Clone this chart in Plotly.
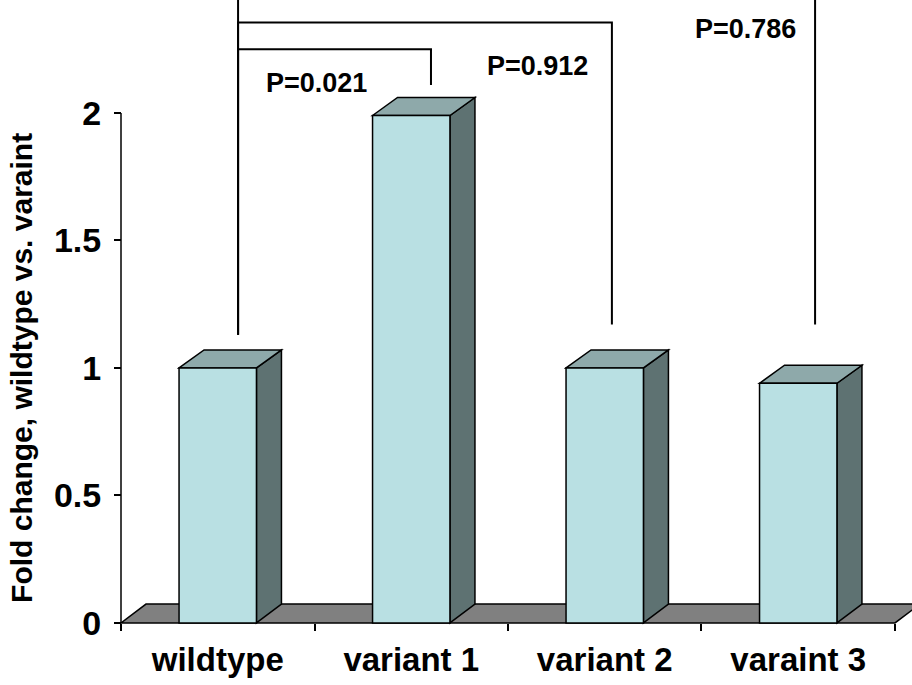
import plotly.graph_objects as go

# ---------------- data ----------------
categories = ["wildtype", "variant 1", "variant 2", "varaint 3"]
fold_change = [1.00, 1.99, 1.00, 0.94]
y_tick_values = [0, 0.5, 1, 1.5, 2]
y_tick_labels = ["0", "0.5", "1", "1.5", "2"]
y_title = "Fold change, wildtype vs. varaint"
compare_left = [0, 0, 0]
compare_right = [1, 2, 3]
p_labels = ["P=0.021", "P=0.912", "P=0.786"]

# ---------------- layout constants ----------------
W_PX, H_PX = 912, 685
M_L, M_R, M_T, M_B = 118, 0, 0, 59
X_RANGE = [-0.5155, 3.5879]
Y_RANGE = [-0.012, 2.443]
BAR_W = 0.40
DX = 25 / 193.5      # 3-D depth (category units)
DY = 18 / 255        # 3-D depth (value units)
FRONT = "#B9E0E3"
TOP = "#8EA9AA"
SIDE = "#5E7272"
FLOOR = "#808080"
FONT = "Liberation Sans, Arial, sans-serif"

leg_offset = [0.105, 0.102, 0.037, 0.087]   # bracket leg x offset from category index
bracket_y = [2.25, 2.355, 2.47]
left_leg_bottom = 1.13
right_leg_bottom = [2.11, 1.17, 1.17]
label_pos = [(0.51, 2.118), (1.65, 2.184), (2.725, 2.329)]

n = len(categories)
xs = list(range(n))

shapes = []
# floor
x0, x1 = -0.5, n - 0.5
shapes.append(dict(
    type="path", xref="x", yref="y", layer="below",
    path=f"M{x0},0 L{x1},0 L{x1 + DX},{DY * 1.05} L{x0 + DX},{DY * 1.05} Z",
    fillcolor=FLOOR, line=dict(color="black", width=1.5)))

# 3-D side and top faces of the columns
for i, v in zip(xs, fold_change):
    l, r = i - BAR_W / 2, i + BAR_W / 2
    shapes.append(dict(
        type="path", xref="x", yref="y", layer="below",
        path=f"M{r},0 L{r + DX},{DY * 1.05} L{r + DX},{v + DY} L{r},{v} Z",
        fillcolor=SIDE, line=dict(color="black", width=1.5)))
    shapes.append(dict(
        type="path", xref="x", yref="y", layer="below",
        path=f"M{l},{v} L{l + DX},{v + DY} L{r + DX},{v + DY} L{r},{v} Z",
        fillcolor=TOP, line=dict(color="black", width=1.5)))

# y axis line (0 .. 2)
shapes.append(dict(type="line", xref="x", yref="y", x0=-0.5, x1=-0.5,
                   y0=0, y1=y_tick_values[-1],
                   line=dict(color="black", width=1.5)))

# significance brackets
for k, (a, b) in enumerate(zip(compare_left, compare_right)):
    xa = a + leg_offset[a]
    xb = b + leg_offset[b]
    shapes.append(dict(
        type="path", xref="x", yref="y", layer="above",
        path=f"M{xa},{left_leg_bottom} L{xa},{bracket_y[k]} L{xb},{bracket_y[k]} L{xb},{right_leg_bottom[k]}",
        line=dict(color="black", width=2)))

annotations = []
for k, txt in enumerate(p_labels):
    annotations.append(dict(
        x=label_pos[k][0], y=label_pos[k][1], xref="x", yref="y",
        xanchor="center", yanchor="middle",
        text=f"<b>{txt}</b>", showarrow=False,
        font=dict(family=FONT, size=27, color="black")))

annotations.append(dict(
    x=(22 - M_L) / (W_PX - M_L - M_R), xref="paper", y=1.0, yref="y",
    xanchor="center", yanchor="middle",
    text=f"<b>{y_title}</b>", textangle=-90, showarrow=False,
    font=dict(family=FONT, size=30, color="black")))

fig = go.Figure()
fig.add_trace(go.Bar(
    x=xs, y=fold_change, width=BAR_W,
    marker=dict(color=FRONT, line=dict(color="black", width=1.5)),
    hoverinfo="skip"))

fig.update_layout(
    width=W_PX, height=H_PX,
    margin=dict(l=M_L, r=M_R, t=M_T, b=M_B, pad=0),
    paper_bgcolor="white", plot_bgcolor="white",
    showlegend=False,
    shapes=shapes, annotations=annotations,
    font=dict(family=FONT, color="black"),
    xaxis=dict(
        range=X_RANGE, tickmode="array", tickvals=xs,
        ticktext=[f"<b>{c}</b>" for c in categories],
        ticks="", showline=False, showgrid=False, zeroline=False,
        tickfont=dict(family=FONT, size=33, color="black"),
        anchor="free", position=(0 - Y_RANGE[0]) / (Y_RANGE[1] - Y_RANGE[0]),
        ticklabelstandoff=14,
        minor=dict(tickmode="array", tickvals=[i - 0.5 for i in range(n + 1)],
                   ticks="outside", ticklen=7, tickwidth=1.5, tickcolor="black",
                   showgrid=False),
    ),
    yaxis=dict(
        range=Y_RANGE, tickmode="array", tickvals=y_tick_values,
        ticktext=[f"<b>{t}</b>" for t in y_tick_labels],
        ticks="outside", ticklen=7, tickwidth=1.5, tickcolor="black",
        showline=False, showgrid=False, zeroline=False,
        tickfont=dict(family=FONT, size=34, color="black"),
        anchor="free", position=(-0.5 - X_RANGE[0]) / (X_RANGE[1] - X_RANGE[0]),
        ticklabelstandoff=6,
    ),
)

fig.write_html("out.html", config={"displayModeBar": False},
               post_script="document.body.style.margin='0';document.body.style.overflow='hidden';")
